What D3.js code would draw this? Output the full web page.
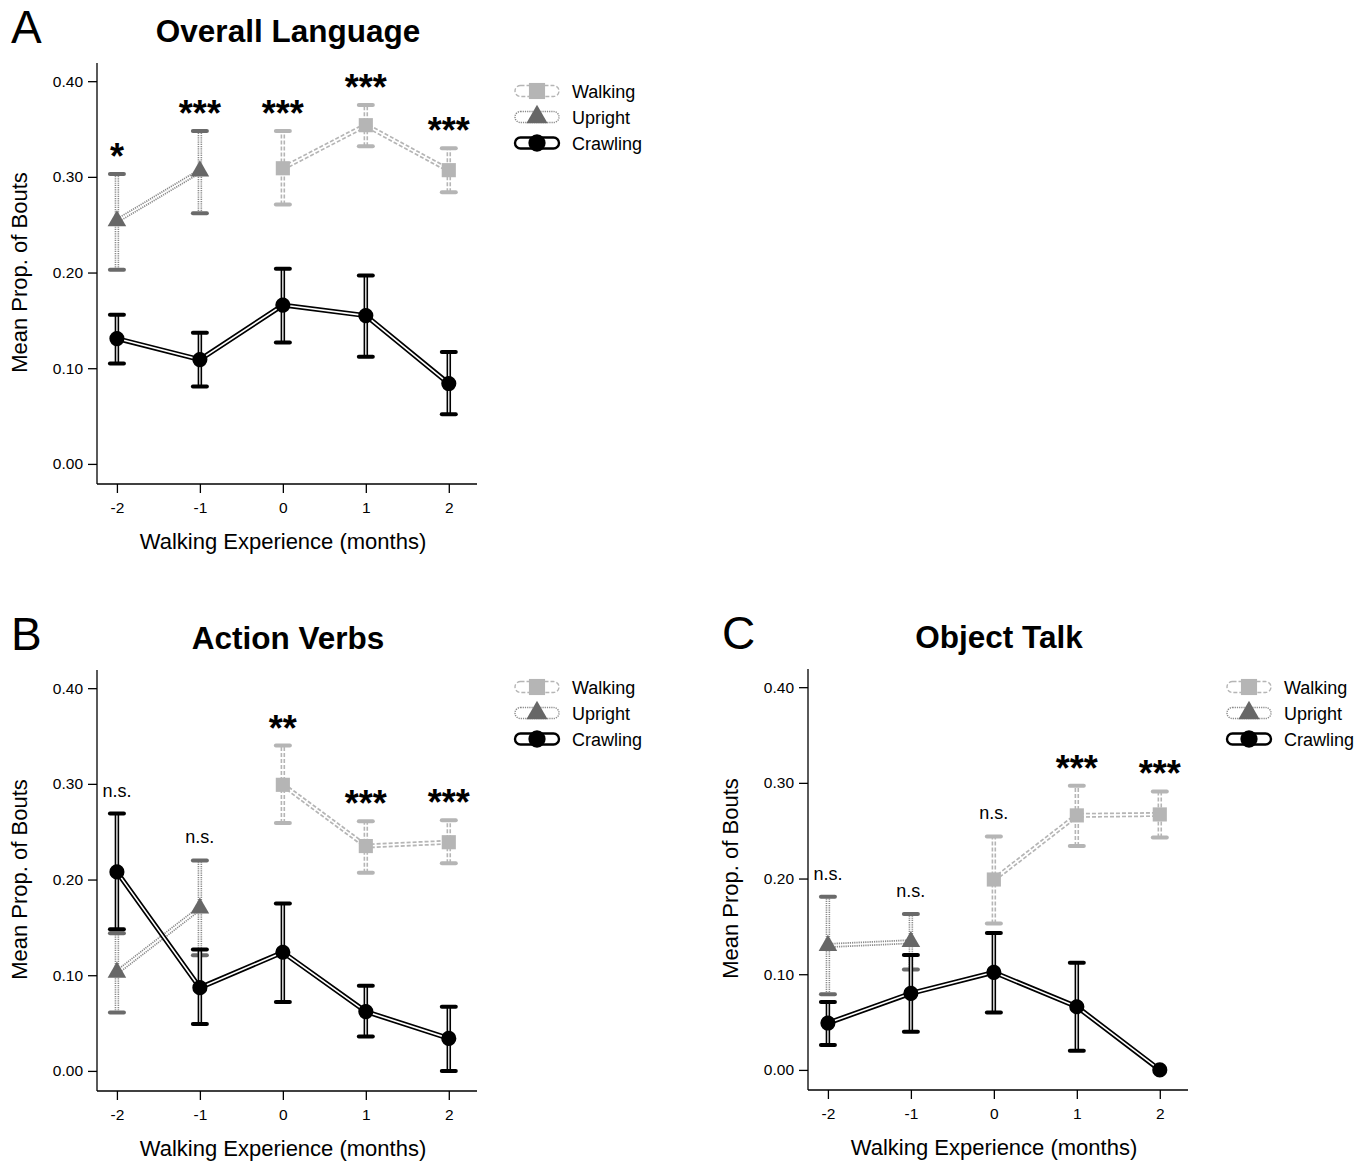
<!DOCTYPE html>
<html>
<head>
<meta charset="utf-8">
<script src="https://cdn.jsdelivr.net/npm/d3@7"></script>
<style>
  body { margin: 0; background: #fff; }
  text { font-family: "Liberation Sans", Arial, sans-serif; }
</style>
</head>
<body>
<svg id="chart" width="1371" height="1165"></svg>
<script>
// ---- data ----
var months = [-2, -1, 0, 1, 2];
var walkMonths = [0, 1, 2];
var uprightMonths = [-2, -1];
var yTicks = [0, 0.1, 0.2, 0.3, 0.4];

// A: Overall Language
var langWalk = [0.309, 0.354, 0.307];
var langWalkLo = [0.271, 0.332, 0.284];
var langWalkHi = [0.348, 0.375, 0.330];
var langUp = [0.254, 0.306];
var langUpLo = [0.203, 0.262];
var langUpHi = [0.303, 0.348];
var langCrawl = [0.131, 0.109, 0.166, 0.155, 0.084];
var langCrawlLo = [0.105, 0.081, 0.127, 0.112, 0.052];
var langCrawlHi = [0.156, 0.137, 0.204, 0.197, 0.117];
var langSig = ["*", "***", "***", "***", "***"];

// B: Action Verbs
var verbWalk = [0.299, 0.235, 0.239];
var verbWalkLo = [0.259, 0.207, 0.217];
var verbWalkHi = [0.340, 0.261, 0.262];
var verbUp = [0.103, 0.170];
var verbUpLo = [0.061, 0.121];
var verbUpHi = [0.144, 0.220];
var verbCrawl = [0.208, 0.087, 0.124, 0.062, 0.034];
var verbCrawlLo = [0.148, 0.049, 0.072, 0.036, 0.000];
var verbCrawlHi = [0.269, 0.127, 0.175, 0.089, 0.067];
var verbSig = ["n.s.", "n.s.", "**", "***", "***"];

// C: Object Talk
var objWalk = [0.199, 0.266, 0.267];
var objWalkLo = [0.153, 0.234, 0.243];
var objWalkHi = [0.244, 0.297, 0.291];
var objUp = [0.130, 0.134];
var objUpLo = [0.079, 0.105];
var objUpHi = [0.181, 0.163];
var objCrawl = [0.049, 0.080, 0.102, 0.066, 0.000];
var objCrawlLo = [0.026, 0.040, 0.060, 0.020, null];
var objCrawlHi = [0.071, 0.120, 0.143, 0.112, null];
var objSig = ["n.s.", "n.s.", "n.s.", "***", "***"];

var legendNames = ["Walking", "Upright", "Crawling"];

// ---- styles ----
var styles = {
  Walking:  { color: "#b5b5b5", mark: "#b5b5b5", dash: "4,2", symbol: d3.symbolSquare, size: 200 },
  Upright:  { color: "#8a8a8a", mark: "#676767", dash: "1.2,1", symbol: d3.symbolTriangle, size: 150 },
  Crawling: { color: "#000",    mark: "#000",    dash: null,  symbol: d3.symbolCircle, size: 180 }
};

function rows(xs, m, lo, hi) {
  return xs.map(function (x, i) { return { x: x, y: m[i], lo: lo[i], hi: hi[i] }; });
}

var panels = [
  { letter: "A", title: "Overall Language", left: 97, top: 63, legX: 515, legY: 91, sig: langSig,
    series: { Walking: rows(walkMonths, langWalk, langWalkLo, langWalkHi),
              Upright: rows(uprightMonths, langUp, langUpLo, langUpHi),
              Crawling: rows(months, langCrawl, langCrawlLo, langCrawlHi) } },
  { letter: "B", title: "Action Verbs", left: 97, top: 670, legX: 515, legY: 687, sig: verbSig,
    series: { Walking: rows(walkMonths, verbWalk, verbWalkLo, verbWalkHi),
              Upright: rows(uprightMonths, verbUp, verbUpLo, verbUpHi),
              Crawling: rows(months, verbCrawl, verbCrawlLo, verbCrawlHi) } },
  { letter: "C", title: "Object Talk", left: 808, top: 669, legX: 1227, legY: 687, sig: objSig,
    series: { Walking: rows(walkMonths, objWalk, objWalkLo, objWalkHi),
              Upright: rows(uprightMonths, objUp, objUpLo, objUpHi),
              Crawling: rows(months, objCrawl, objCrawlLo, objCrawlHi) } }
];

var W = 380, H = 421;
var svg = d3.select("#chart");

// draws a "double line": coloured stroke with a thin white core
function doubleStroke(sel, st, outer, inner) {
  sel.append("path").attr("class", "outer")
    .attr("fill", "none").attr("stroke", st.color).attr("stroke-width", outer)
    .attr("stroke-dasharray", st.dash);
  sel.append("path").attr("class", "inner")
    .attr("fill", "none").attr("stroke", "#fff").attr("stroke-width", inner);
}

panels.forEach(function (p) {
  var x = d3.scaleLinear().domain([-2.24, 2.34]).range([0, W]);
  var y = d3.scaleLinear().domain([-0.021, 0.419]).range([H, 0]);
  var g = svg.append("g").attr("transform", "translate(" + p.left + "," + p.top + ")");

  // panel letter + title
  svg.append("text").attr("x", p.left - 86).attr("y", p.top - 20)
    .attr("font-size", 46).text(p.letter);
  svg.append("text").attr("x", p.left + 191).attr("y", p.top - 21)
    .attr("text-anchor", "middle").attr("font-size", 31.5).attr("font-weight", "bold").text(p.title);

  // axes
  var yAxis = d3.axisLeft(y).tickValues(yTicks).tickFormat(d3.format(".2f")).tickSize(9).tickPadding(5);
  var xAxis = d3.axisBottom(x).tickValues(months).tickFormat(d3.format("d")).tickSize(9).tickPadding(9);
  var ya = g.append("g").call(yAxis);
  var xa = g.append("g").attr("transform", "translate(0," + H + ")").call(xAxis);
  [ya, xa].forEach(function (a) {
    a.attr("font-size", 15.5).attr("font-family", "Liberation Sans, Arial, sans-serif");
    a.select(".domain").attr("d", a === ya ? "M0,0V" + H : "M0,0H" + W).attr("stroke-width", 1.3);
    a.selectAll(".tick line").attr("stroke-width", 1.3);
  });
  xa.selectAll("text").text(function (d) { return d; });

  g.append("text").attr("x", W / 2 - 4).attr("y", H + 65)
    .attr("text-anchor", "middle").attr("font-size", 22).text("Walking Experience (months)");
  g.append("text").attr("transform", "translate(" + (-70) + "," + (H / 2 - 1) + ") rotate(-90)")
    .attr("text-anchor", "middle").attr("font-size", 22).text("Mean Prop. of Bouts");

  var line = d3.line().x(function (d) { return x(d.x); }).y(function (d) { return y(d.y); });

  ["Walking", "Upright", "Crawling"].forEach(function (name) {
    var st = styles[name];
    var data = p.series[name];
    var sg = g.append("g");
    var bars = data.filter(function (d) { return d.lo != null; });

    // error bars
    bars.forEach(function (d) {
      var eb = sg.append("g");
      doubleStroke(eb, st, 4.5, 1.3);
      eb.selectAll("path").attr("d", "M" + x(d.x) + "," + y(d.lo) + "V" + y(d.hi));
      eb.selectAll("line").data([d.lo, d.hi]).enter().append("line")
        .attr("x1", x(d.x) - 7).attr("x2", x(d.x) + 7)
        .attr("y1", function (v) { return y(v); }).attr("y2", function (v) { return y(v); })
        .attr("stroke", st.mark === "#676767" ? "#6a6a6a" : st.color)
        .attr("stroke-width", 4).attr("stroke-linecap", "round");
    });

    // connecting line
    var lg = sg.append("g");
    doubleStroke(lg, st, 5, 1.6);
    lg.selectAll("path").attr("d", line(data));

    // markers
    sg.selectAll(".pt").data(data).enter().append("path")
      .attr("transform", function (d) { return "translate(" + x(d.x) + "," + y(d.y) + ")"; })
      .attr("d", d3.symbol().type(st.symbol).size(st.size))
      .attr("fill", st.mark);
  });

  // significance labels, placed above the highest upper cap at each month
  months.forEach(function (m, i) {
    var top = d3.max(["Walking", "Upright", "Crawling"], function (n) {
      var r = p.series[n].find(function (d) { return d.x === m; });
      return r ? (r.hi != null ? r.hi : r.y) : null;
    });
    var s = p.sig[i];
    var isStar = s.charAt(0) === "*";
    g.append("text").attr("x", x(m)).attr("y", y(top) - (isStar ? 5 : 17))
      .attr("text-anchor", "middle")
      .attr("font-size", isStar ? 36 : 18)
      .attr("font-weight", isStar ? "bold" : "normal")
      .text(s);
  });

  // legend
  legendNames.forEach(function (name, i) {
    var st = styles[name];
    var lg = svg.append("g").attr("transform", "translate(" + p.legX + "," + (p.legY + i * 26) + ")");
    lg.append("rect").attr("x", 0).attr("y", -5.5).attr("width", 44).attr("height", 11).attr("rx", 5.5)
      .attr("fill", "#fff").attr("stroke", st.color)
      .attr("stroke-width", name === "Crawling" ? 2.4 : 1.4)
      .attr("stroke-dasharray", st.dash);
    lg.append("path").attr("transform", "translate(22,0)")
      .attr("d", d3.symbol().type(st.symbol).size(st.size * 1.3)).attr("fill", st.mark);
    lg.append("text").attr("x", 57).attr("y", 6.5).attr("font-size", 18).text(name);
  });
});
</script>
</body>
</html>
